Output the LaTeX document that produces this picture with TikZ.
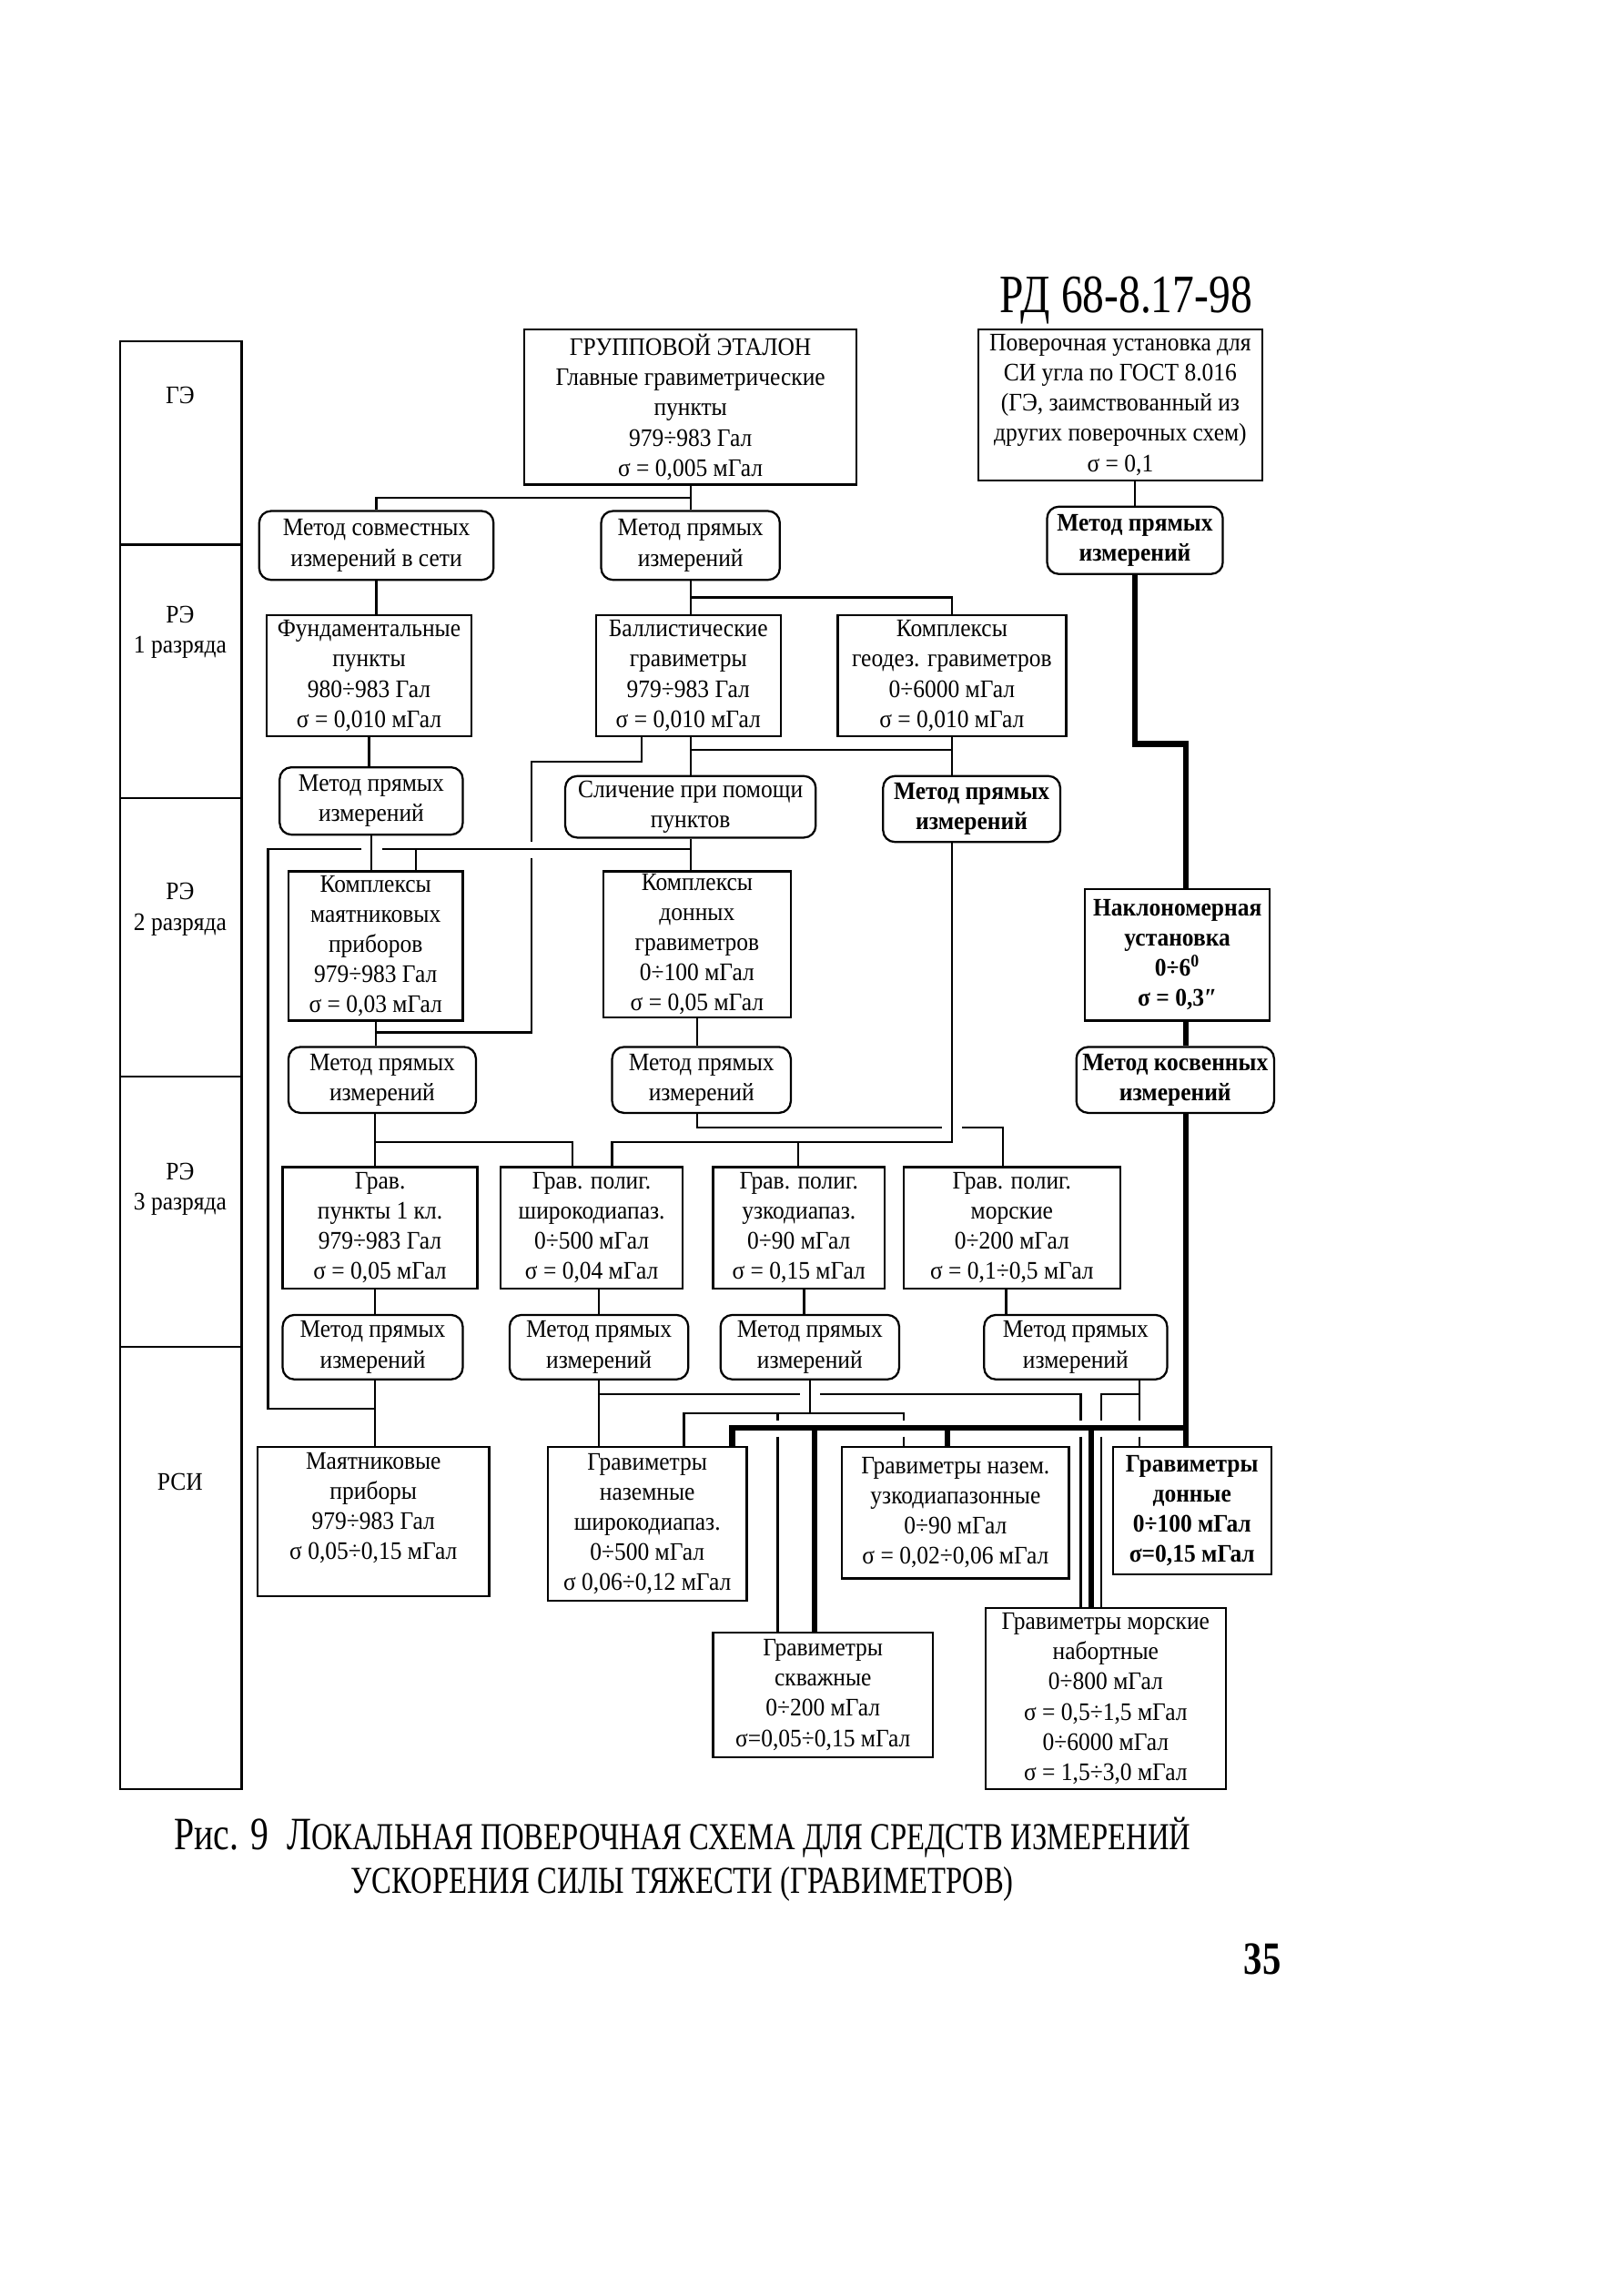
\documentclass[tikz,border=0pt]{standalone}
\usepackage{fontspec}
\setmainfont{Liberation Serif}
\newfontfamily\boxfont[FakeStretch=0.92]{Liberation Serif}
\newfontfamily\capfont[FakeStretch=0.78]{Liberation Serif}
\newfontfamily\headfont[FakeStretch=0.8]{Liberation Serif}

\newcommand*{\px}{0.2mm}

\begin{document}
\begin{tikzpicture}
[
	x=\px, y=-\px,
	stdbox/.style={draw,line width=0.8pt,align=center,inner sep=0.5pt,font=\boxfont\fontsize{9.8}{11.7}\selectfont},
	methbox/.style={stdbox,rounded corners=1.6mm},
	boldtxt/.style={font=\boxfont\bfseries\fontsize{9.8}{11.7}\selectfont},
	lbl/.style={align=center,font=\boxfont\fontsize{9.8}{11.7}\selectfont},
	thinln/.style={line width=0.8pt},
	thickln/.style={line width=2.2pt}
]
	\useasboundingbox (0,0) rectangle (1099,1568);

	\node[font=\headfont\fontsize{21}{25}\selectfont] (doc) at (769,205) {РД 68-8.17-98};

	% left column
	\draw[thinln] (82,233) rectangle (165,1222);
	\foreach \yy in {372,545,735,920}
		\draw[thinln] (82,\yy) -- (165,\yy);
	\node[lbl] (lGE) at (123,270) {ГЭ};
	\node[lbl] (lRE1) at (123,432) {РЭ\\1 разряда};
	\node[lbl] (lRE2) at (123,621) {РЭ\\2 разряда};
	\node[lbl] (lRE3) at (123,812) {РЭ\\3 разряда};
	\node[lbl] (lRSI) at (123,1012) {РСИ};

	% GE level
	\node[stdbox,minimum width=227*\px,minimum height=106*\px] (G) at (471.5,278)
		{ГРУППОВОЙ ЭТАЛОН\\Главные гравиметрические\\пункты\\979÷983 Гал\\σ = 0,005 мГал};
	\node[stdbox,minimum width=194*\px,minimum height=103*\px] (U) at (765,276.5)
		{Поверочная установка для\\СИ угла по ГОСТ 8.016\\(ГЭ, заимствованный из\\других поверочных схем)\\σ = 0,1};
	\node[methbox,minimum width=160*\px,minimum height=47*\px] (M1) at (257,372.5) {Метод совместных\\измерений в сети};
	\node[methbox,minimum width=122*\px,minimum height=47*\px] (M2) at (471.5,372.5) {Метод прямых\\измерений};
	\node[methbox,boldtxt,minimum width=120*\px,minimum height=46*\px] (M3) at (775,369) {Метод прямых\\измерений};

	% RE 1
	\node[stdbox,minimum width=140*\px,minimum height=83*\px] (F) at (252,461.5)
		{Фундаментальные\\пункты\\980÷983 Гал\\σ = 0,010 мГал};
	\node[stdbox,minimum width=126*\px,minimum height=83*\px] (B) at (470,461.5)
		{Баллистические\\гравиметры\\979÷983 Гал\\σ = 0,010 мГал};
	\node[stdbox,minimum width=156*\px,minimum height=83*\px] (K) at (650,461.5)
		{Комплексы\\геодез. гравиметров\\0÷6000 мГал\\σ = 0,010 мГал};
	\node[methbox,minimum width=125*\px,minimum height=46*\px] (M4) at (253.5,547) {Метод прямых\\измерений};
	\node[methbox,minimum width=171*\px,minimum height=42*\px] (S) at (471.5,551) {Сличение при помощи\\пунктов};
	\node[methbox,boldtxt,minimum width=121*\px,minimum height=45*\px] (M5) at (663.5,552.5) {Метод прямых\\измерений};

	% RE 2
	\node[stdbox,minimum width=119*\px,minimum height=102*\px] (KM) at (256.5,646)
		{Комплексы\\маятниковых\\приборов\\979÷983 Гал\\σ = 0,03 мГал};
	\node[stdbox,minimum width=128*\px,minimum height=100*\px] (KD) at (476,645)
		{Комплексы\\донных\\гравиметров\\0÷100 мГал\\σ = 0,05 мГал};
	\node[stdbox,boldtxt,minimum width=126*\px,minimum height=90*\px] (N) at (804,652)
		{Наклономерная\\установка\\0÷6\textsuperscript{0}\\σ = 0,3″};
	\node[methbox,minimum width=128*\px,minimum height=45*\px] (M6) at (261,737.5) {Метод прямых\\измерений};
	\node[methbox,minimum width=122*\px,minimum height=45*\px] (M7) at (479,737.5) {Метод прямых\\измерений};
	\node[methbox,boldtxt,minimum width=135*\px,minimum height=45*\px] (M8) at (802.5,737.5) {Метод косвенных\\измерений};

	% RE 3
	\node[stdbox,minimum width=133*\px,minimum height=83*\px] (P1) at (259.5,838.5)
		{Грав.\\пункты 1 кл.\\979÷983 Гал\\σ = 0,05 мГал};
	\node[stdbox,minimum width=124*\px,minimum height=83*\px] (P2) at (404,838.5)
		{Грав. полиг.\\широкодиапаз.\\0÷500 мГал\\σ = 0,04 мГал};
	\node[stdbox,minimum width=117*\px,minimum height=83*\px] (P3) at (545.5,838.5)
		{Грав. полиг.\\узкодиапаз.\\0÷90 мГал\\σ = 0,15 мГал};
	\node[stdbox,minimum width=148*\px,minimum height=83*\px] (P4) at (691,838.5)
		{Грав. полиг.\\морские\\0÷200 мГал\\σ = 0,1÷0,5 мГал};
	\node[methbox,minimum width=123*\px,minimum height=44*\px] (M9) at (254.5,920) {Метод прямых\\измерений};
	\node[methbox,minimum width=122*\px,minimum height=44*\px] (M10) at (409,920) {Метод прямых\\измерений};
	\node[methbox,minimum width=122*\px,minimum height=44*\px] (M11) at (553,920) {Метод прямых\\измерений};
	\node[methbox,minimum width=125*\px,minimum height=44*\px] (M12) at (734.5,920) {Метод прямых\\измерений};

	% RSI
	\node[stdbox,minimum width=158*\px,minimum height=102*\px] (R1) at (255,1039)
		{Маятниковые\\приборы\\979÷983 Гал\\σ 0,05÷0,15 мГал\\ };
	\node[stdbox,minimum width=136*\px,minimum height=105*\px] (R2) at (442,1040.5)
		{Гравиметры\\наземные\\широкодиапаз.\\0÷500 мГал\\σ 0,06÷0,12 мГал};
	\node[stdbox,minimum width=155*\px,minimum height=90*\px] (R3) at (652.5,1033)
		{Гравиметры назем.\\узкодиапазонные\\0÷90 мГал\\σ = 0,02÷0,06 мГал};
	\node[stdbox,boldtxt,minimum width=108*\px,minimum height=87*\px] (R4) at (814,1031.5)
		{Гравиметры\\донные\\0÷100 мГал\\σ=0,15 мГал};
	\node[stdbox,minimum width=150*\px,minimum height=85*\px] (R5) at (562,1157.5)
		{Гравиметры\\скважные\\0÷200 мГал\\σ=0,05÷0,15 мГал};
	\node[stdbox,minimum width=164*\px,minimum height=124*\px] (R6) at (755,1160)
		{Гравиметры морские\\набортные\\0÷800 мГал\\σ = 0,5÷1,5 мГал\\0÷6000 мГал\\σ = 1,5÷3,0 мГал};

	% connectors GE -> RE 1
	\draw[thinln] (G.south) -- (M2.north);
	\draw[thinln] (M1.north) |- (471.5,340);
	\draw[thinln] (U.south -| M3.north) -- (M3.north);
	\draw[thinln] (M1.south) -- (M1.south |- F.north);
	\draw[thinln] (M2.south) -- (M2.south |- B.north);
	\draw[thinln] (K.north) |- (471.5,408);

	% RE 1 -> RE 2
	\draw[thinln] (F.south) -- (F.south |- M4.north);
	\draw[thinln] (B.south -| S.north) -- (S.north);
	\draw[thinln] (K.south) |- (471.5,512);
	\draw[thinln] (K.south) -- (K.south |- M5.north);
	\draw[thinln] (B.south -| 438,0) |- (363,520) -- (363,575);
	\draw[thinln] (363,586) |- (KM.south |- 0,705);
	\draw[thinln] (S.south) -- (S.south |- KD.north);
	\draw[thinln] (S.south |- 0,580) -- (261,580);
	\draw[thinln] (247,580) -| (183,962) -- (256,962);
	\draw[thinln] (284,580) -- (KM.north -| 284,0);
	\draw[thinln] (M4.south) -- (M4.south |- KM.north);

	% RE 2 -> RE 3
	\draw[thinln] (KM.south) -- (KM.south |- M6.north);
	\draw[thinln] (KD.south) -- (KD.south |- M7.north);
	\draw[thinln] (M6.south -| 256,0) -- (P1.north -| 256,0);
	\draw[thinln] (256,780) -| (P2.north -| 391,0);
	\draw[thinln] (M5.south -| K.south) |- (418,780) -- (P2.north -| 418,0);
	\draw[thinln] (545,780) -- (P3.north -| 545,0);
	\draw[thinln] (M7.south -| KD.south) |- (643,770);
	\draw[thinln] (657,770) -| (P4.north -| 685,0);

	% RE 3 -> RSI
	\draw[thinln] (P1.south -| 256,0) -- (M9.north -| 256,0);
	\draw[thinln] (P2.south -| 409,0) -- (M10.north -| 409,0);
	\draw[thinln] (P3.south -| 549,0) -- (M11.north -| 549,0);
	\draw[thinln] (P4.south -| 687,0) -- (M12.north -| 687,0);
	\draw[thinln] (M9.south -| 256,0) -- (R1.north -| 256,0);
	\draw[thinln] (M10.south -| 409,0) -- (R2.north -| 409,0);
	\draw[thinln] (409,952) -- (546,952);
	\draw[thinln] (560,952) -| (738,970);
	\draw[thinln] (738,981) -- (R6.north -| 738,0);
	\draw[thinln] (M11.south -| 553,0) -- (553,965);
	\draw[thinln] (R2.north -| 467,0) |- (617,965) -- (617,970);
	\draw[thinln] (617,981) -- (R3.north -| 617,0);
	\draw[thinln] (531,965) -- (531,970);
	\draw[thinln] (531,981) -- (R5.north -| 531,0);
	\draw[thinln] (M12.south -| 778,0) -- (778,970);
	\draw[thinln] (778,981) -- (R4.north -| 778,0);
	\draw[thinln] (778,952) -| (752,970);
	\draw[thinln] (752,981) -- (R6.north -| 752,0);

	% tilt line
	\draw[thickln] (M3.south) |- (810,508) -- (N.north -| 810,0);
	\draw[thickln] (N.south -| 810,0) -- (M8.north -| 810,0);
	\draw[thickln] (M8.south -| 810,0) |- (500,975) -- (R2.north -| 500,0);
	\draw[thickln] (556,975) -- (R5.north -| 556,0);
	\draw[thickln] (647,975) -- (R3.north -| 647,0);
	\draw[thickln] (745,975) -- (R6.north -| 745,0);
	\draw[thickln] (810,975) -- (R4.north -| 810,0);

	% caption
	\node[font=\capfont\fontsize{14.8}{17}\selectfont] (cap1) at (466,1255)
		{{\fontsize{18}{21}\selectfont Рис. 9\ \ Л}ОКАЛЬНАЯ ПОВЕРОЧНАЯ СХЕМА ДЛЯ СРЕДСТВ ИЗМЕРЕНИЙ};
	\node[font=\capfont\fontsize{14.8}{17}\selectfont] (cap2) at (466,1287)
		{УСКОРЕНИЯ СИЛЫ ТЯЖЕСТИ (ГРАВИМЕТРОВ)};
	\node[font=\headfont\bfseries\fontsize{18}{22}\selectfont] (pg) at (862,1338) {35};

\end{tikzpicture}
\end{document}
